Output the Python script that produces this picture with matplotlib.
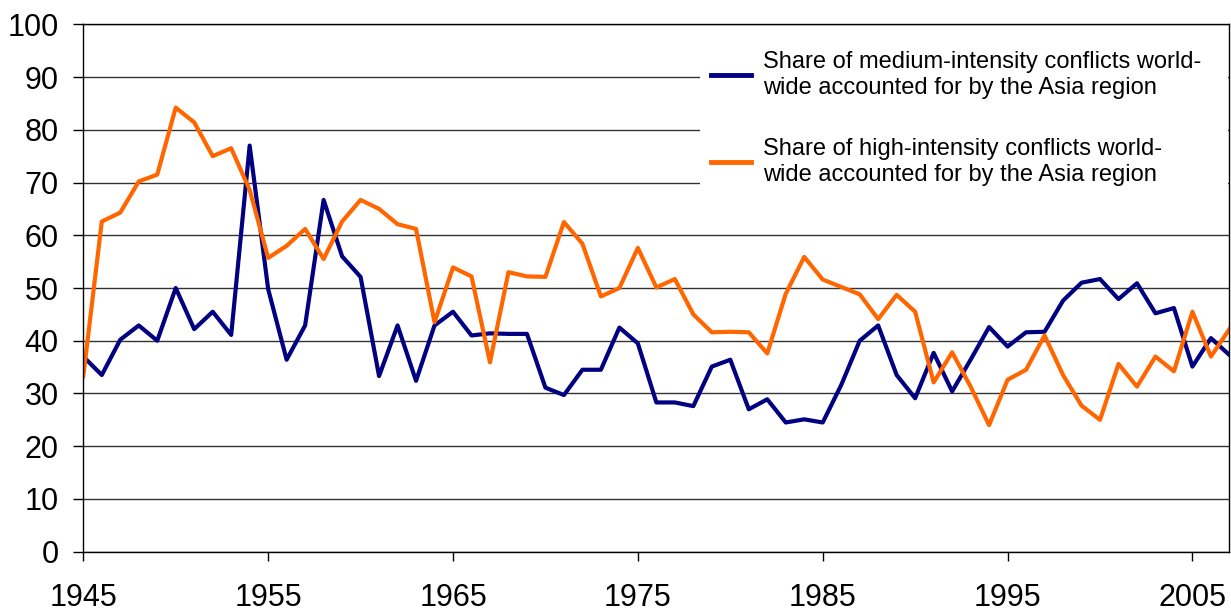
# Asia share of world conflicts by intensity, 1945-2007.
# Line chart redrawn from an Excel-style figure.

import matplotlib
matplotlib.use("Agg")
import matplotlib.pyplot as plt

years = list(range(1945, 2008))

# share of medium-intensity conflicts (%)
medium = [37.0, 33.5, 40.2, 42.9, 40.0, 50.0, 42.2, 45.5, 41.1, 77.0,
          49.8, 36.4, 42.9, 66.7, 56.0, 52.1, 33.3, 42.9, 32.4, 42.9,
          45.5, 41.0, 41.4, 41.3, 41.3, 31.1, 29.7, 34.5, 34.5, 42.5,
          39.5, 28.3, 28.3, 27.6, 35.1, 36.4, 27.0, 28.9, 24.5, 25.1,
          24.5, 31.6, 40.0, 42.9, 33.5, 29.1, 37.7, 30.4, 36.4, 42.6,
          38.9, 41.6, 41.7, 47.6, 51.0, 51.7, 47.9, 50.9, 45.2, 46.2,
          35.1, 40.5, 37.3]

# share of high-intensity conflicts (%)
high = [33.3, 62.6, 64.3, 70.2, 71.5, 84.2, 81.4, 75.0, 76.5, 68.6,
        55.7, 58.0, 61.2, 55.5, 62.6, 66.7, 65.0, 62.1, 61.2, 43.5,
        53.9, 52.2, 35.9, 53.0, 52.2, 52.1, 62.5, 58.4, 48.4, 50.0,
        57.6, 50.1, 51.7, 45.0, 41.6, 41.7, 41.6, 37.6, 48.9, 55.9,
        51.6, 50.2, 48.8, 44.1, 48.7, 45.5, 32.1, 37.8, 31.3, 24.0,
        32.6, 34.5, 41.0, 33.5, 27.7, 25.0, 35.6, 31.3, 37.0, 34.2,
        45.5, 37.0, 42.2]

labels = ["Share of medium-intensity conflicts world-\nwide accounted for by the Asia region",
          "Share of high-intensity conflicts world-\nwide accounted for by the Asia region"]

plt.rcParams['font.family'] = ['Liberation Sans', 'DejaVu Sans']

W, H = 1231, 612
fig = plt.figure(figsize=(W / 100, H / 100), dpi=100)
ax = fig.add_axes([83.3 / W, 1 - 551.7 / H, (1229.4 - 83.3) / W, (551.7 - 24.3) / H])

ax.plot(years, medium, color='#000080', lw=3.0, label=labels[0])
ax.plot(years, high, color='#FF6600', lw=3.0, label=labels[1])

ax.set_xlim(1945, 2007)
ax.set_ylim(0, 100)
ax.set_yticks(range(0, 101, 10))
ax.set_xticks(range(1945, 2006, 10))
ax.yaxis.grid(True, color='#333333', lw=1.0)
ax.set_axisbelow(True)
for s in ax.spines.values():
    s.set_color('black')
    s.set_linewidth(1.0)
ax.tick_params(axis='y', direction='out', length=7.2, width=1, pad=10.5, labelsize=22)
ax.tick_params(axis='x', direction='out', length=6.7, width=1, pad=16, labelsize=22)

# white legend box without border, sitting over the top-right gridlines
leg = ax.legend(loc='upper left', bbox_to_anchor=(700 / W, 1 - 205 / H, 528 / W, 165 / H),
                bbox_transform=fig.transFigure, mode='expand', borderaxespad=0,
                fontsize=17, frameon=True, fancybox=False, framealpha=1,
                facecolor='white', edgecolor='none', borderpad=0.45,
                handlelength=1.7, handletextpad=0.5, labelspacing=1.65)
for t in leg.get_texts():
    t.set_linespacing(1.25)
for ln in leg.get_lines():
    ln.set_linewidth(3.5)

fig.savefig("out.png", dpi=100)
